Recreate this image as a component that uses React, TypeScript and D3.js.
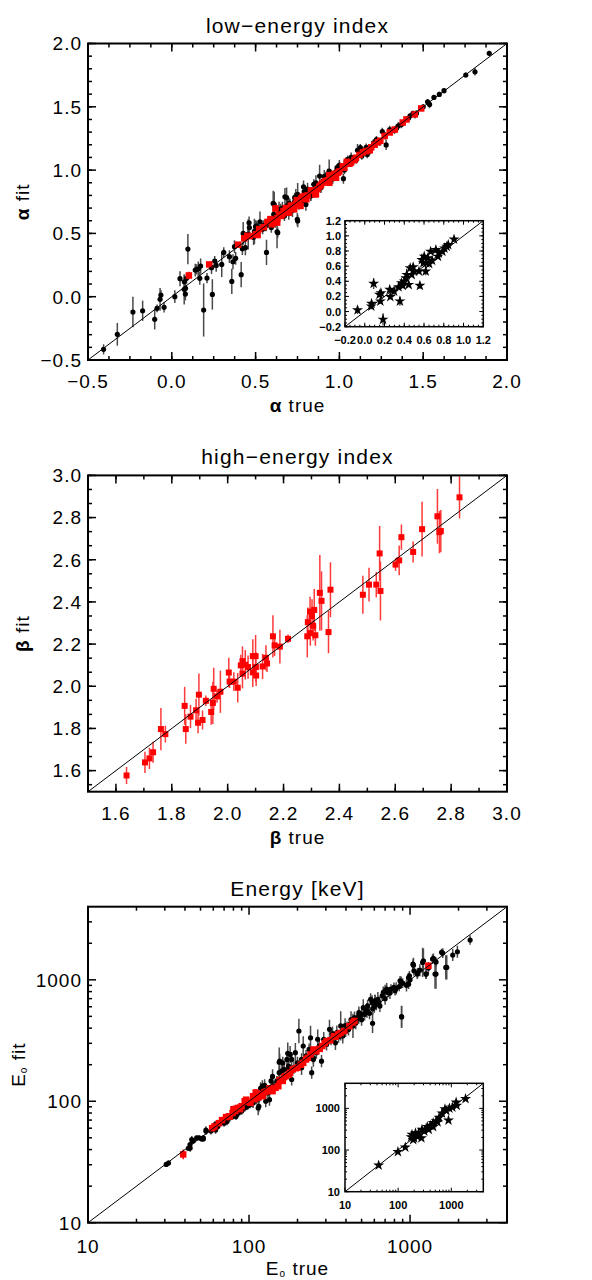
import * as d3 from "d3";

const FONT = "'Liberation Sans', Arial, Helvetica, sans-serif";

type Pt = [number, number, number]; // [true, fit, error]

// ---- low-energy index ----
const alphaBlack: Pt[] = [
  [-0.407, -0.416, 0.04], [-0.325, -0.297, 0.09], [-0.232, -0.121, 0.12], [-0.174, -0.111, 0.08],
  [-0.102, -0.179, 0.08], [-0.088, -0.092, 0.03], [-0.07, -0.021, 0.09], [-0.065, 0.013, 0.04],
  [-0.046, -0.084, 0.04], [0.018, 0.0, 0.05], [0.049, 0.142, 0.06], [0.074, 0.058, 0.12],
  [0.081, 0.021, 0.05], [0.082, 0.066, 0.05], [0.075, 0.118, 0.05], [0.096, 0.376, 0.12],
  [0.088, 0.145, 0.04], [0.14, 0.21, 0.05], [0.149, 0.216, 0.04], [0.158, 0.218, 0.06],
  [0.167, 0.145, 0.05], [0.172, 0.242, 0.06], [0.19, -0.105, 0.21], [0.21, 0.147, 0.04],
  [0.237, 0.229, 0.05], [0.242, 0.018, 0.12], [0.256, 0.282, 0.04], [0.265, 0.247, 0.05],
  [0.298, 0.255, 0.1], [0.31, 0.35, 0.04], [0.344, 0.316, 0.05], [0.358, 0.121, 0.1],
  [0.365, 0.276, 0.06], [0.374, 0.395, 0.05], [0.381, 0.303, 0.05], [0.414, 0.174, 0.1],
  [0.421, 0.379, 0.05], [0.426, 0.5, 0.09], [0.439, 0.387, 0.06], [0.456, 0.492, 0.12],
  [0.461, 0.584, 0.05], [0.488, 0.468, 0.06], [0.493, 0.516, 0.1], [0.5, 0.553, 0.05],
  [0.526, 0.592, 0.08], [0.546, 0.563, 0.04], [0.565, 0.35, 0.1], [0.563, 0.566, 0.05],
  [0.596, 0.592, 0.04], [0.605, 0.737, 0.1], [0.628, 0.513, 0.13], [0.649, 0.684, 0.05],
  [0.675, 0.789, 0.07], [0.698, 0.658, 0.05], [0.705, 0.724, 0.05], [0.732, 0.75, 0.04],
  [0.749, 0.611, 0.05], [0.758, 0.737, 0.05], [0.786, 0.868, 0.05], [0.8, 0.729, 0.05],
  [0.789, 0.782, 0.04], [0.777, 0.743, 0.04], [0.751, 0.808, 0.09], [0.733, 0.782, 0.04],
  [0.716, 0.69, 0.04], [0.685, 0.782, 0.08], [0.672, 0.638, 0.04], [0.62, 0.585, 0.04],
  [0.611, 0.729, 0.1], [0.608, 0.651, 0.04], [0.594, 0.546, 0.04], [0.577, 0.585, 0.04],
  [0.559, 0.559, 0.04], [0.542, 0.533, 0.04], [0.507, 0.559, 0.04], [0.463, 0.546, 0.04],
  [0.455, 0.493, 0.04], [0.751, 0.598, 0.05], [0.632, 0.506, 0.04], [0.873, 0.861, 0.04],
  [0.847, 0.888, 0.04], [0.841, 0.822, 0.04], [0.829, 0.796, 0.04], [0.817, 0.822, 0.04],
  [0.882, 0.953, 0.09], [0.902, 0.914, 0.03], [0.925, 0.94, 0.04], [0.939, 0.993, 0.09],
  [0.951, 0.967, 0.03], [0.974, 0.98, 0.03], [0.986, 1.019, 0.03], [1.012, 1.006, 0.03],
  [1.024, 0.932, 0.04], [1.05, 1.085, 0.03], [1.064, 1.08, 0.03], [1.082, 1.072, 0.03],
  [1.108, 1.156, 0.05], [1.125, 1.177, 0.03], [1.134, 1.111, 0.03], [1.148, 1.151, 0.03],
  [1.166, 1.124, 0.03], [1.204, 1.216, 0.03], [1.221, 1.24, 0.03], [1.256, 1.305, 0.03],
  [1.274, 1.27, 0.03], [1.279, 1.199, 0.04], [1.329, 1.315, 0.03], [1.34, 1.331, 0.03],
  [1.352, 1.35, 0.03], [1.413, 1.411, 0.02], [1.422, 1.429, 0.02], [1.439, 1.448, 0.02],
  [1.451, 1.437, 0.03], [1.526, 1.54, 0.02], [1.538, 1.519, 0.03], [1.564, 1.574, 0.02],
  [1.596, 1.598, 0.02], [1.624, 1.627, 0.02], [1.754, 1.751, 0.02], [1.809, 1.777, 0.03],
  [1.894, 1.922, 0.02], [0.66, 0.7, 0.05], [0.7, 0.74, 0.04], [0.72, 0.68, 0.05],
  [0.76, 0.78, 0.04], [0.81, 0.85, 0.05], [0.83, 0.8, 0.04], [0.86, 0.9, 0.06],
  [0.89, 0.86, 0.04], [0.91, 0.95, 0.05], [0.96, 0.93, 0.04], [1.0, 1.04, 0.04],
  [1.03, 1.0, 0.03], [1.07, 1.1, 0.04], [1.1, 1.08, 0.03], [1.16, 1.18, 0.03],
  [1.18, 1.15, 0.03], [1.24, 1.22, 0.03], [1.3, 1.32, 0.03], [1.37, 1.36, 0.03],
  [1.46, 1.45, 0.02], [1.5, 1.5, 0.02], [0.64, 0.69, 0.06], [0.69, 0.72, 0.05],
  [0.74, 0.79, 0.06], [0.79, 0.83, 0.05], [0.93, 0.97, 0.04], [1.04, 1.07, 0.03],
];

const alphaRed: Pt[] = [
  [0.102, 0.168, 0.03], [0.223, 0.255, 0.02], [0.396, 0.411, 0.02], [0.432, 0.461, 0.02],
  [0.465, 0.479, 0.02], [0.512, 0.487, 0.02], [0.521, 0.534, 0.02], [0.588, 0.613, 0.02],
  [0.619, 0.697, 0.03], [0.64, 0.645, 0.02], [0.667, 0.676, 0.02], [0.688, 0.689, 0.02],
  [0.719, 0.697, 0.02], [0.746, 0.763, 0.02], [0.772, 0.776, 0.02], [0.793, 0.795, 0.02],
  [0.803, 0.77, 0.02], [0.768, 0.717, 0.02], [0.73, 0.69, 0.02], [0.699, 0.664, 0.02],
  [0.65, 0.638, 0.02], [0.629, 0.585, 0.02], [0.598, 0.572, 0.02], [0.503, 0.493, 0.02],
  [0.855, 0.808, 0.02], [0.89, 0.882, 0.02], [0.916, 0.914, 0.02], [0.956, 0.945, 0.02],
  [0.991, 0.98, 0.02], [1.03, 1.019, 0.02], [1.044, 1.066, 0.02], [1.099, 1.098, 0.02],
  [1.181, 1.156, 0.02], [1.244, 1.232, 0.02], [1.3, 1.297, 0.02], [1.378, 1.376, 0.02],
  [1.488, 1.487, 0.02], [0.83, 0.84, 0.02], [0.87, 0.85, 0.02], [0.94, 0.96, 0.02],
  [1.07, 1.06, 0.02], [1.14, 1.14, 0.02], [1.21, 1.2, 0.02], [0.71, 0.72, 0.02],
  [0.55, 0.55, 0.02], [0.57, 0.59, 0.02], [0.6, 0.6, 0.02], [0.63, 0.62, 0.02],
  [0.66, 0.65, 0.02], [0.68, 0.7, 0.02], [0.74, 0.73, 0.02], [0.76, 0.75, 0.02],
  [0.78, 0.79, 0.02], [0.81, 0.8, 0.02], [0.85, 0.84, 0.02], [0.88, 0.87, 0.02],
  [0.9, 0.9, 0.02], [0.93, 0.92, 0.02], [0.97, 0.97, 0.02], [1.0, 0.99, 0.02],
  [1.02, 1.03, 0.02], [1.06, 1.05, 0.02], [1.09, 1.08, 0.02], [1.12, 1.12, 0.02],
  [1.16, 1.15, 0.02], [1.19, 1.18, 0.02], [1.23, 1.22, 0.02], [1.27, 1.27, 0.02],
  [1.33, 1.32, 0.02], [1.4, 1.4, 0.02], [1.45, 1.44, 0.02], [0.94, 0.9, 0.02],
  [0.86, 0.81, 0.02], [0.98, 0.94, 0.02], [0.45, 0.48, 0.02],
];

const alphaStars: Pt[] = [
  [-0.073, 0.019, 0.05], [0.066, 0.071, 0.04], [0.069, 0.106, 0.03], [0.09, 0.369, 0.07],
  [0.149, 0.224, 0.03], [0.164, 0.246, 0.03], [0.158, 0.137, 0.03], [0.185, -0.104, 0.08],
  [0.253, 0.29, 0.03], [0.259, 0.194, 0.03], [0.297, 0.268, 0.06], [0.342, 0.325, 0.03],
  [0.356, 0.137, 0.06], [0.371, 0.378, 0.03], [0.386, 0.342, 0.03], [0.401, 0.399, 0.03],
  [0.416, 0.443, 0.03], [0.425, 0.487, 0.08], [0.445, 0.355, 0.03], [0.46, 0.574, 0.03],
  [0.475, 0.487, 0.03], [0.49, 0.587, 0.03], [0.499, 0.531, 0.03], [0.549, 0.531, 0.03],
  [0.558, 0.342, 0.04], [0.578, 0.684, 0.08], [0.593, 0.64, 0.03], [0.602, 0.728, 0.03],
  [0.617, 0.531, 0.05], [0.623, 0.64, 0.03], [0.638, 0.706, 0.03], [0.652, 0.631, 0.03],
  [0.667, 0.793, 0.03], [0.682, 0.675, 0.03], [0.72, 0.815, 0.03], [0.741, 0.728, 0.03],
  [0.75, 0.771, 0.03], [0.786, 0.793, 0.03], [0.806, 0.837, 0.03], [0.83, 0.859, 0.03],
  [0.845, 0.881, 0.03], [0.904, 0.955, 0.02],
];

const alphaTicks = [-0.5, 0, 0.5, 1.0, 1.5, 2.0];
const alphaInsetTicks = [-0.2, 0, 0.2, 0.4, 0.6, 0.8, 1.0, 1.2];

// ---- high-energy index ----
const betaRed: Pt[] = [
  [1.638, 1.577, 0.04], [1.704, 1.639, 0.05], [1.72, 1.658, 0.05], [1.733, 1.687, 0.05],
  [1.761, 1.797, 0.1], [1.777, 1.773, 0.04], [1.846, 1.907, 0.09], [1.85, 1.797, 0.07],
  [1.867, 1.856, 0.055], [1.887, 1.886, 0.055], [1.897, 1.96, 0.1], [1.894, 1.827, 0.05],
  [1.91, 1.84, 0.045], [1.922, 1.931, 0.025], [1.941, 1.878, 0.06], [1.947, 1.921, 0.1],
  [1.95, 1.988, 0.1], [1.962, 1.952, 0.03], [1.974, 1.974, 0.1], [2.004, 2.065, 0.07],
  [2.007, 2.022, 0.03], [2.022, 2.022, 0.045], [2.036, 1.993, 0.07], [2.047, 2.099, 0.05],
  [2.053, 2.119, 0.07], [2.053, 2.06, 0.07], [2.063, 2.102, 0.07], [2.073, 2.091, 0.055],
  [2.09, 2.143, 0.08], [2.09, 2.066, 0.07], [2.1, 2.143, 0.1], [2.101, 2.091, 0.07],
  [2.102, 2.051, 0.05], [2.125, 2.094, 0.06], [2.137, 2.135, 0.06], [2.141, 2.108, 0.04],
  [2.162, 2.237, 0.1], [2.168, 2.194, 0.05], [2.187, 2.188, 0.08], [2.216, 2.225, 0.02],
  [2.285, 2.237, 0.1], [2.287, 2.304, 0.07], [2.295, 2.354, 0.07], [2.296, 2.252, 0.06],
  [2.302, 2.333, 0.08], [2.306, 2.287, 0.07], [2.31, 2.362, 0.1], [2.314, 2.242, 0.05],
  [2.33, 2.443, 0.18], [2.336, 2.405, 0.14], [2.361, 2.257, 0.1], [2.368, 2.458, 0.13],
  [2.484, 2.434, 0.09], [2.506, 2.482, 0.08], [2.532, 2.482, 0.06], [2.544, 2.63, 0.13],
  [2.547, 2.452, 0.14], [2.601, 2.577, 0.03], [2.614, 2.597, 0.07], [2.622, 2.707, 0.06],
  [2.664, 2.637, 0.05], [2.696, 2.745, 0.13], [2.751, 2.806, 0.13], [2.758, 2.731, 0.1],
  [2.763, 2.736, 0.1], [2.83, 2.896, 0.1],
];

const betaTicks = [1.6, 1.8, 2.0, 2.2, 2.4, 2.6, 2.8, 3.0];

// ---- peak energy, keV (error in dex) ----
const epBlack: Pt[] = [
  [31.6, 31.0, 0.02], [30.6, 30.2, 0.02], [43.1, 41.2, 0.03], [44.1, 48.3, 0.03], [47.3, 49.9, 0.02],
  [50.8, 49.0, 0.02], [52.0, 48.9, 0.02], [54.1, 56.5, 0.03], [61.5, 64.1, 0.03],
  [69.2, 68.4, 0.03], [79.8, 82.6, 0.04], [106, 97, 0.04], [114, 88, 0.06],
  [134, 103, 0.05], [154, 210, 0.12], [175, 183, 0.06], [184, 151, 0.05],
  [212, 189, 0.06], [245, 172, 0.05], [251, 221, 0.06], [282, 214, 0.05],
  [1570, 1683, 0.03], [1667, 1265, 0.1], [1429, 1114, 0.12], [1380, 1483, 0.04],
  [1259, 1114, 0.04], [1197, 1390, 0.12], [1042, 1346, 0.04], [1057, 1186, 0.04],
  [1109, 1114, 0.04], [979, 1045, 0.04], [979, 920, 0.04], [881, 951, 0.05],
  [857, 881, 0.04], [794, 865, 0.04], [762, 838, 0.04], [731, 787, 0.04],
  [700, 811, 0.05], [671, 738, 0.04], [885, 498, 0.09], [631, 692, 0.06],
  [618, 630, 0.05], [605, 670, 0.05], [587, 579, 0.05], [581, 649, 0.06],
  [569, 692, 0.05], [545, 610, 0.05], [533, 555, 0.05], [585, 439, 0.08],
  [522, 520, 0.05], [512, 590, 0.07], [501, 520, 0.05], [481, 537, 0.05],
  [467, 473, 0.05], [452, 489, 0.05], [442, 417, 0.1], [424, 431, 0.05],
  [406, 404, 0.05], [398, 379, 0.05], [382, 344, 0.06], [371, 417, 0.12],
  [351, 367, 0.06], [344, 303, 0.06], [337, 333, 0.05], [323, 324, 0.05],
  [316, 391, 0.08], [303, 294, 0.05], [291, 324, 0.06], [273, 285, 0.05],
  [267, 324, 0.08], [262, 251, 0.05], [251, 228, 0.05], [241, 333, 0.1],
  [236, 267, 0.05], [226, 236, 0.05], [217, 285, 0.08], [212, 221, 0.05],
  [204, 379, 0.1], [200, 207, 0.05], [194, 251, 0.08], [190, 189, 0.05],
  [184, 221, 0.06], [180, 243, 0.07], [176, 195, 0.05], [174, 248, 0.09],
  [172, 221, 0.05], [165, 183, 0.05], [162, 207, 0.05], [155, 214, 0.06],
  [154, 172, 0.05], [155, 151, 0.05], [149, 147, 0.04], [143, 133, 0.04],
  [137, 147, 0.05], [131, 117, 0.04], [127, 100, 0.05], [123, 117, 0.04],
  [121, 133, 0.05], [116, 107, 0.04], [115, 91, 0.05], [111, 103, 0.04],
  [106, 97, 0.04], [102, 94, 0.03], [98, 91, 0.03], [94, 88, 0.03],
  [90, 83, 0.03], [86, 80, 0.03], [83, 75, 0.03], [79, 75, 0.03],
  [76, 73, 0.03], [73, 68, 0.03], [70, 66, 0.03], [64, 62, 0.03],
  [62, 58, 0.03], [58, 57, 0.03], [54, 58, 0.03], [52, 50, 0.02],
  [49, 50, 0.02], [45, 47, 0.02], [43, 44, 0.02], [42, 41, 0.02],
  [2360, 2128, 0.04], [1968, 1702, 0.05], [1841, 1600, 0.05], [1690, 1265, 0.1],
  [1596, 1660, 0.04], [1449, 1114, 0.12], [1396, 1500, 0.04], [1211, 1435, 0.1],
  [1256, 1114, 0.04], [1112, 1135, 0.04], [1050, 1321, 0.06], [991, 1079, 0.04],
  [887, 494, 0.09], [867, 982, 0.04], [807, 813, 0.04], [716, 838, 0.05],
  [682, 787, 0.05], [607, 671, 0.05], [330, 360, 0.06], [360, 340, 0.05],
  [395, 420, 0.06], [415, 390, 0.05], [430, 470, 0.07], [460, 440, 0.05],
  [480, 500, 0.06], [500, 470, 0.05], [540, 560, 0.06], [560, 530, 0.05],
  [600, 600, 0.05], [640, 650, 0.05], [650, 610, 0.05], [700, 700, 0.05],
  [750, 780, 0.05], [820, 850, 0.05], [900, 940, 0.04], [950, 900, 0.05],
  [1000, 1000, 0.04], [1150, 1200, 0.05], [1300, 1250, 0.05], [1450, 1400, 0.04],
  [140, 160, 0.06], [160, 178, 0.07], [125, 135, 0.05], [118, 128, 0.05],
];

const epRed: Pt[] = [
  [1300, 1306, 0.02], [452, 458, 0.02], [390, 379, 0.02], [359, 356, 0.02],
  [337, 344, 0.02], [303, 313, 0.02], [285, 285, 0.02], [251, 267, 0.02],
  [241, 243, 0.02], [226, 221, 0.02], [217, 207, 0.02], [200, 189, 0.02],
  [187, 183, 0.02], [176, 166, 0.02], [169, 161, 0.02], [162, 147, 0.02],
  [152, 133, 0.02], [146, 129, 0.02], [140, 121, 0.02], [129, 121, 0.02],
  [121, 110, 0.02], [114, 107, 0.02], [106, 110, 0.02], [102, 97, 0.02],
  [96, 103, 0.02], [90, 91, 0.02], [85, 88, 0.03], [79, 80, 0.02],
  [75, 75, 0.02], [72, 74, 0.02], [61, 62, 0.02], [39, 36.5, 0.04],
  [59, 60, 0.02], [76, 75, 0.02], [94, 100, 0.03], [122, 113, 0.02],
  [65, 66, 0.02], [68, 70, 0.02], [82, 83, 0.02], [88, 86, 0.02],
  [98, 99, 0.02], [108, 104, 0.02], [118, 115, 0.02], [125, 119, 0.02],
  [134, 128, 0.02], [155, 150, 0.02], [165, 158, 0.02], [180, 172, 0.02],
  [195, 187, 0.02], [210, 200, 0.02], [232, 228, 0.02], [262, 258, 0.02],
  [275, 270, 0.02], [295, 300, 0.02], [320, 318, 0.02], [345, 340, 0.02],
  [370, 365, 0.02], [420, 415, 0.02], [440, 445, 0.02], [80, 86, 0.03],
  [110, 118, 0.03],
];

const epStars: Pt[] = [
  [43, 43, 0.02], [99, 91, 0.02], [136, 116, 0.03], [182, 234, 0.03],
  [200, 194, 0.03], [212, 257, 0.03], [192, 176, 0.03], [226, 213, 0.03],
  [274, 194, 0.03], [281, 310, 0.03], [311, 282, 0.03], [354, 361, 0.03],
  [402, 389, 0.03], [456, 453, 0.03], [519, 498, 0.03], [589, 601, 0.03],
  [668, 767, 0.03], [809, 877, 0.03], [920, 1000, 0.03], [885, 516, 0.04],
  [1233, 1406, 0.03], [1265, 1164, 0.03], [1854, 1698, 0.03], [377, 310, 0.03],
  [456, 361, 0.03], [242, 257, 0.03], [176, 205, 0.03], [759, 964, 0.03],
  [1045, 1059, 0.03], [552, 470, 0.03],
];

const epTicks = [10, 100, 1000];

// ------------------------------------------------------------

const L = 88;
const R = 507;

function linMinors(domain: number[], anchor: number, step: number) {
  const start = anchor - step * Math.floor((anchor - domain[0]) / step + 1e-6);
  return d3.range(start, domain[1] + step * 1e-3, step);
}

function logMinors(domain: number[]) {
  const out: number[] = [];
  [1, 10, 100, 1000].forEach((d) => {
    for (let k = 2; k <= 9; k++) {
      const v = d * k;
      if (v > domain[0] && v < domain[1]) out.push(v);
    }
  });
  return out;
}

function Ticks({ x, y, xMaj, xMin, yMaj, yMin, big, small, sw = 1.5 }: any) {
  const [x0, x1] = x.range();
  const [y0, y1] = y.range(); // y0 bottom, y1 top
  const lines: any[] = [];
  const addX = (vals: number[], len: number, key: string) =>
    vals.forEach((v, i) => {
      const px = x(v);
      lines.push(<line key={`${key}b${i}`} x1={px} x2={px} y1={y0} y2={y0 - len} />);
      lines.push(<line key={`${key}t${i}`} x1={px} x2={px} y1={y1} y2={y1 + len} />);
    });
  const addY = (vals: number[], len: number, key: string) =>
    vals.forEach((v, i) => {
      const py = y(v);
      lines.push(<line key={`${key}l${i}`} x1={x0} x2={x0 + len} y1={py} y2={py} />);
      lines.push(<line key={`${key}r${i}`} x1={x1} x2={x1 - len} y1={py} y2={py} />);
    });
  addX(xMaj, big, "xM");
  addX(xMin, small, "xm");
  addY(yMaj, big, "yM");
  addY(yMin, small, "ym");
  return (
    <g stroke="#000" strokeWidth={sw}>
      {lines}
    </g>
  );
}

function ErrBars({ data, x, y, log, color, width }: any) {
  return (
    <g stroke={color} strokeWidth={width}>
      {data.map((d: Pt, i: number) => {
        const lo = log ? d[1] / Math.pow(10, d[2]) : d[1] - d[2];
        const hi = log ? d[1] * Math.pow(10, d[2]) : d[1] + d[2];
        return <line key={i} x1={x(d[0])} x2={x(d[0])} y1={y(lo)} y2={y(hi)} />;
      })}
    </g>
  );
}

function Dots({ data, x, y }: any) {
  return (
    <g fill="#000">
      {data.map((d: Pt, i: number) => (
        <circle key={i} cx={x(d[0])} cy={y(d[1])} r={2.6} />
      ))}
    </g>
  );
}

function Squares({ data, x, y, s }: any) {
  return (
    <g fill="#ff0000">
      {data.map((d: Pt, i: number) => (
        <rect key={i} x={x(d[0]) - s / 2} y={y(d[1]) - s / 2} width={s} height={s} />
      ))}
    </g>
  );
}

const starPath = d3.symbol(d3.symbolStar, 38)()!;

function Stars({ data, x, y }: any) {
  return (
    <g fill="#000">
      {data.map((d: Pt, i: number) => (
        <path key={i} d={starPath} transform={`translate(${x(d[0])},${y(d[1])})`} />
      ))}
    </g>
  );
}

function Diagonal({ x, y }: any) {
  const d = x.domain();
  return (
    <line x1={x(d[0])} y1={y(d[0])} x2={x(d[1])} y2={y(d[1])} stroke="#000" strokeWidth={1} />
  );
}

function TickLabels({ x, y, xVals, yVals, fmt, size, weight, xOff, yOff, ls }: any) {
  const y0 = y.range()[0];
  const x0 = x.range()[0];
  return (
    <g fontFamily={FONT} fontSize={size} fontWeight={weight} fill="#000" letterSpacing={ls}>
      {xVals.map((v: number, i: number) => (
        <text key={"x" + i} x={x(v)} y={y0 + xOff} textAnchor="middle">
          {fmt(v)}
        </text>
      ))}
      {yVals.map((v: number, i: number) => (
        <text key={"y" + i} x={x0 - yOff} y={y(v)} dy="0.36em" textAnchor="end">
          {fmt(v)}
        </text>
      ))}
    </g>
  );
}

function Titles({ x, y, title, xLab, yLab, yLabX }: any) {
  const [x0, x1] = x.range();
  const [y0, y1] = y.range();
  const cx = (x0 + x1) / 2;
  const cy = (y0 + y1) / 2;
  return (
    <g fontFamily={FONT} fill="#000" style={{ whiteSpace: "pre" }}>
      <text x={cx} y={y1 - 11} textAnchor="middle" fontSize={21} letterSpacing={1.2}>
        {title}
      </text>
      <text x={cx} y={y0 + 52} textAnchor="middle" fontSize={19} letterSpacing={1}>
        {xLab}
      </text>
      <text transform={`translate(${yLabX},${cy}) rotate(-90)`} textAnchor="middle" fontSize={19} letterSpacing={1}>
        {yLab}
      </text>
    </g>
  );
}

function Clip({ id, x, y }: any) {
  const [x0, x1] = x.range();
  const [y0, y1] = y.range();
  return (
    <clipPath id={id}>
      <rect x={x0} y={y1} width={x1 - x0} height={y0 - y1} />
    </clipPath>
  );
}

function Frame({ x, y, sw }: any) {
  const [x0, x1] = x.range();
  const [y0, y1] = y.range();
  return <rect x={x0} y={y1} width={x1 - x0} height={y0 - y1} fill="none" stroke="#000" strokeWidth={sw} />;
}

export default function App() {
  const f1 = d3.format(".1f");
  const fInt = d3.format("d");

  // panel 1
  const ax = d3.scaleLinear().domain([-0.5, 2.0]).range([L, R]);
  const ay = d3.scaleLinear().domain([-0.5, 2.0]).range([360, 43.5]);
  const aix = d3.scaleLinear().domain([-0.2, 1.2]).range([345, 483.3]);
  const aiy = d3.scaleLinear().domain([-0.2, 1.2]).range([326.7, 220.7]);

  // panel 2
  const bx = d3.scaleLinear().domain([1.5, 3.0]).range([L, R]);
  const by = d3.scaleLinear().domain([1.5, 3.0]).range([791.7, 475.4]);

  // panel 3
  const ex = d3.scaleLog().domain([10, 4000]).range([L, R]);
  const ey = d3.scaleLog().domain([10, 4000]).range([1222.7, 906.7]);
  const eix = d3.scaleLog().domain([10, 4000]).range([345, 483.3]);
  const eiy = d3.scaleLog().domain([10, 4000]).range([1191.7, 1083.3]);

  const eLabel = (rest: string) => (
    <>
      E
      <tspan fontSize={10} dy={2}>
        o
      </tspan>
      <tspan dy={-2}>{rest}</tspan>
    </>
  );

  return (
    <div style={{ position: "absolute", left: 0, top: 0 }}>
      <svg width={592} height={1280} viewBox="0 0 592 1280" style={{ display: "block", background: "#fff" }}>
        <defs>
          <Clip id="c1" x={ax} y={ay} />
          <Clip id="c1i" x={aix} y={aiy} />
          <Clip id="c2" x={bx} y={by} />
          <Clip id="c3" x={ex} y={ey} />
          <Clip id="c3i" x={eix} y={eiy} />
        </defs>

        {/* low-energy index */}
        <g clipPath="url(#c1)">
          <ErrBars data={alphaBlack} x={ax} y={ay} color="#4a4a4a" width={1.5} />
          <Dots data={alphaBlack} x={ax} y={ay} />
          <ErrBars data={alphaRed} x={ax} y={ay} color="#ff0000" width={1.5} />
          <Squares data={alphaRed} x={ax} y={ay} s={6.5} />
          <Diagonal x={ax} y={ay} />
        </g>
        <Ticks x={ax} y={ay} xMaj={alphaTicks} xMin={linMinors(ax.domain(), -0.5, 0.125)}
          yMaj={alphaTicks} yMin={linMinors(ay.domain(), -0.5, 0.1)} big={8} small={4} />
        <Frame x={ax} y={ay} sw={2} />
        <TickLabels x={ax} y={ay} xVals={alphaTicks} yVals={alphaTicks} fmt={f1} size={19} weight="normal" xOff={28} yOff={6} ls={1} />
        <Titles x={ax} y={ay} title="low−energy index" yLabX={29}
          xLab={<><tspan fontWeight="bold">α</tspan>{"  true"}</>}
          yLab={<><tspan fontWeight="bold">α</tspan>{"  fit"}</>} />

        <rect x={345} y={220.7} width={138.3} height={106} fill="#fff" />
        <g clipPath="url(#c1i)">
          <ErrBars data={alphaStars} x={aix} y={aiy} color="#4a4a4a" width={1.4} />
          <Stars data={alphaStars} x={aix} y={aiy} />
          <Diagonal x={aix} y={aiy} />
        </g>
        <Ticks x={aix} y={aiy} xMaj={alphaInsetTicks} xMin={linMinors(aix.domain(), -0.2, 0.05)}
          yMaj={alphaInsetTicks} yMin={linMinors(aiy.domain(), -0.2, 0.05)} big={4} small={2} sw={1} />
        <Frame x={aix} y={aiy} sw={1.5} />
        <TickLabels x={aix} y={aiy} xVals={alphaInsetTicks} yVals={alphaInsetTicks} fmt={f1} size={11} weight="bold" xOff={17} yOff={4} ls={0} />

        {/* high-energy index */}
        <g clipPath="url(#c2)">
          <ErrBars data={betaRed} x={bx} y={by} color="#ff3a3a" width={1.5} />
          <Squares data={betaRed} x={bx} y={by} s={6} />
          <Diagonal x={bx} y={by} />
        </g>
        <Ticks x={bx} y={by} xMaj={betaTicks} xMin={linMinors(bx.domain(), 1.6, 0.1)}
          yMaj={betaTicks} yMin={linMinors(by.domain(), 1.6, 0.2 / 3)} big={8} small={4} />
        <Frame x={bx} y={by} sw={2} />
        <TickLabels x={bx} y={by} xVals={betaTicks} yVals={betaTicks} fmt={f1} size={19} weight="normal" xOff={28} yOff={6} ls={1} />
        <Titles x={bx} y={by} title="high−energy index" yLabX={29}
          xLab={<><tspan fontWeight="bold">β</tspan>{"  true"}</>}
          yLab={<><tspan fontWeight="bold">β</tspan>{"  fit"}</>} />

        {/* peak energy */}
        <g clipPath="url(#c3)">
          <ErrBars data={epBlack} x={ex} y={ey} log color="#4a4a4a" width={1.5} />
          <Dots data={epBlack} x={ex} y={ey} />
          <ErrBars data={epRed} x={ex} y={ey} log color="#ff0000" width={1.5} />
          <Squares data={epRed} x={ex} y={ey} s={6.5} />
          <Diagonal x={ex} y={ey} />
        </g>
        <Ticks x={ex} y={ey} xMaj={epTicks} xMin={logMinors(ex.domain())}
          yMaj={epTicks} yMin={logMinors(ey.domain())} big={8} small={4} />
        <Frame x={ex} y={ey} sw={2} />
        <TickLabels x={ex} y={ey} xVals={epTicks} yVals={epTicks} fmt={fInt} size={19} weight="normal" xOff={30} yOff={6} ls={1} />
        <Titles x={ex} y={ey} title="Energy [keV]" yLabX={25} xLab={eLabel(" true")} yLab={eLabel(" fit")} />

        <rect x={345} y={1083.3} width={138.3} height={108.4} fill="#fff" />
        <g clipPath="url(#c3i)">
          <ErrBars data={epStars} x={eix} y={eiy} log color="#4a4a4a" width={1.4} />
          <Stars data={epStars} x={eix} y={eiy} />
          <Diagonal x={eix} y={eiy} />
        </g>
        <Ticks x={eix} y={eiy} xMaj={epTicks} xMin={logMinors(eix.domain())}
          yMaj={epTicks} yMin={logMinors(eiy.domain())} big={4} small={2} sw={1} />
        <Frame x={eix} y={eiy} sw={1.5} />
        <TickLabels x={eix} y={eiy} xVals={epTicks} yVals={epTicks} fmt={fInt} size={11} weight="bold" xOff={17} yOff={5} ls={0} />
      </svg>
    </div>
  );
}
